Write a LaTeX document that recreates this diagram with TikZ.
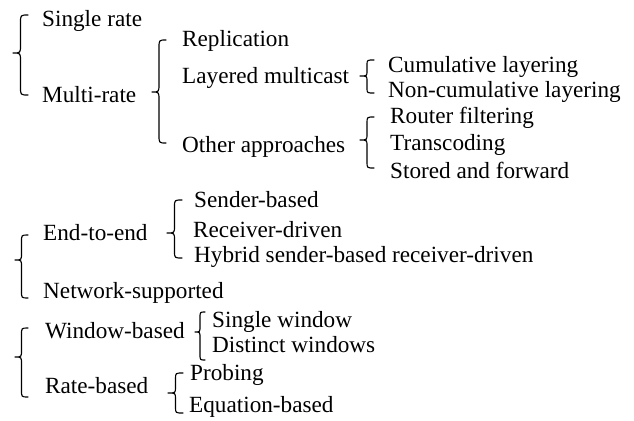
\documentclass[tikz,border=0pt]{standalone}
\usepackage{fontspec}
\setmainfont{Liberation Serif}

% Curly brace opening to the right:
% #1 x of the hook ends, #2 x of the tip, #3 top y, #4 tip y, #5 bottom y, #6 hook height
\newcommand\curlybrace[6]{%
  \draw[bracestyle]
    (#1,#3) .. controls ({(#1+#2)/2},#3) .. ({(#1+#2)/2},{#3+#6})
    -- ({(#1+#2)/2},{#4-#6}) .. controls ({(#1+#2)/2},#4) .. (#2,#4)
    .. controls ({(#1+#2)/2},#4) .. ({(#1+#2)/2},{#4+#6})
    -- ({(#1+#2)/2},{#5-#6}) .. controls ({(#1+#2)/2},#5) .. (#1,#5);}

\begin{document}
\begin{tikzpicture}[x=1pt,y=-1pt,
  lbl/.style={anchor=base west,inner sep=0pt,font=\fontsize{23.2}{28}\selectfont},
  bracestyle/.style={line width=1.15pt,line cap=round,line join=round}]
\useasboundingbox[fill=white] (0,0) rectangle (634,420);

% --- rate classes ---
\curlybrace{28}{13}{15}{53}{95}{8}
\node[lbl] (single) at (42,27) {Single rate};
\node[lbl] (multi)  at (42,102) {Multi-rate};

\curlybrace{166}{152}{40}{92}{143}{8}
\node[lbl] (repl)  at (182,47)  {Replication};
\node[lbl] (layer) at (182,83)  {Layered multicast};
\node[lbl] (other) at (182,152) {Other approaches};

\curlybrace{374}{360}{60}{76}{93}{5}
\node[lbl] (cumul)    at (388,72) {Cumulative layering};
\node[lbl] (noncumul) at (388,97) {Non-cumulative layering};

\curlybrace{374}{360}{117}{140}{168}{6}
\node[lbl] (router) at (390,123) {Router filtering};
\node[lbl] (trans)  at (390,150) {Transcoding};
\node[lbl] (stored) at (390,178) {Stored and forward};

% --- where control is placed ---
\curlybrace{28}{15}{235}{260}{298}{7}
\node[lbl] (e2e) at (43,240) {End-to-end};
\node[lbl] (net) at (43,298) {Network-supported};

\curlybrace{182}{167}{200}{233}{258}{7}
\node[lbl] (sender) at (194,207) {Sender-based};
\node[lbl] (recv)   at (193,237) {Receiver-driven};
\node[lbl] (hybrid) at (194,262) {Hybrid sender-based receiver-driven};

% --- how the rate is adjusted ---
\curlybrace{28}{15}{328}{357}{397}{7}
\node[lbl] (window) at (45,338) {Window-based};
\node[lbl] (rate)   at (45,393) {Rate-based};

\curlybrace{205}{195}{312}{332}{360}{6}
\node[lbl] (singlew)   at (212,327) {Single window};
\node[lbl] (distinctw) at (212,352) {Distinct windows};

\curlybrace{183}{168}{373}{393}{413}{6}
\node[lbl] (probing)  at (190,380) {Probing};
\node[lbl] (equation) at (189,412) {Equation-based};
\end{tikzpicture}
\end{document}
